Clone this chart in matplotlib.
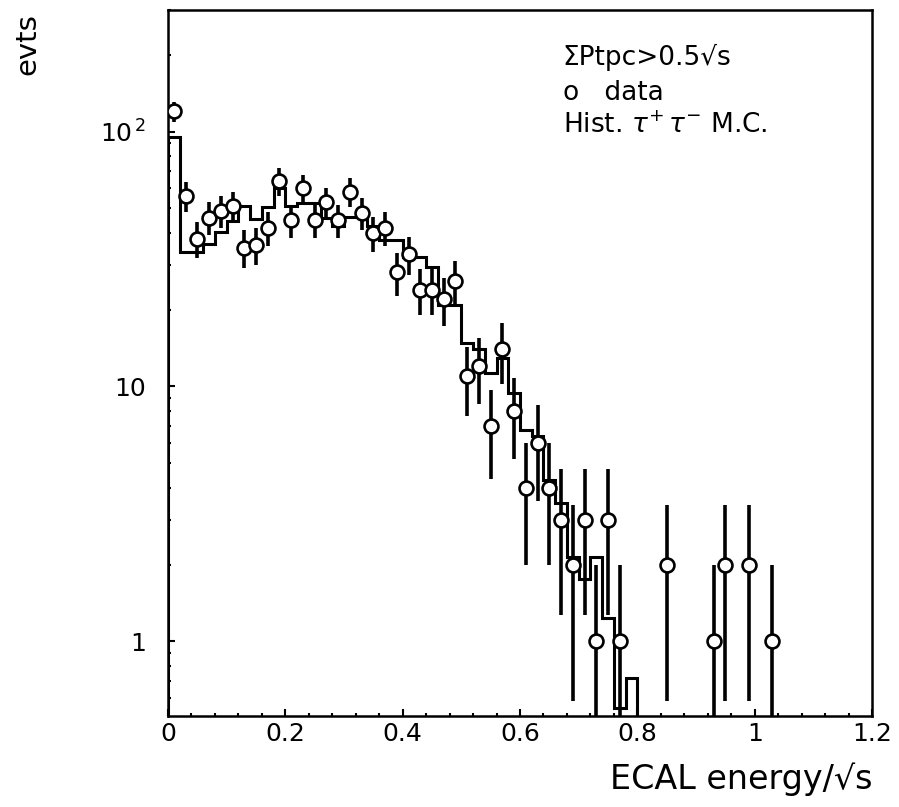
"""ECAL energy distribution: data points vs tau-pair MC histogram."""
import numpy as np
import matplotlib
matplotlib.use('Agg')
import matplotlib.pyplot as plt
from matplotlib.ticker import FixedLocator, LogLocator, MultipleLocator, NullFormatter

# data points (bin centres and counts)
data_x = [0.01, 0.03, 0.05, 0.07, 0.09, 0.11, 0.13, 0.15, 0.17, 0.19,
          0.21, 0.23, 0.25, 0.27, 0.29, 0.31, 0.33, 0.35, 0.37, 0.39,
          0.41, 0.43, 0.45, 0.47, 0.49, 0.51, 0.53, 0.55, 0.57, 0.59,
          0.61, 0.63, 0.65, 0.67, 0.69, 0.71, 0.73, 0.75, 0.77,
          0.85, 0.93, 0.95, 0.99, 1.03]
data_n = [120, 56, 38, 46, 49, 51, 35, 36, 42, 64,
          45, 60, 45, 53, 45, 58, 48, 40, 42, 28,
          33, 24, 24, 22, 26, 11, 12, 7, 14, 8,
          4, 6, 4, 3, 2, 3, 1, 3, 1,
          2, 1, 2, 2, 1]

# tau+ tau- Monte Carlo histogram
mc_edges = [0.00, 0.02, 0.04, 0.06, 0.08, 0.10, 0.12, 0.14, 0.16, 0.18,
            0.20, 0.22, 0.24, 0.26, 0.28, 0.30, 0.32, 0.34, 0.36, 0.38,
            0.40, 0.42, 0.44, 0.46, 0.48, 0.50, 0.52, 0.54, 0.56, 0.58,
            0.60, 0.62, 0.64, 0.66, 0.68, 0.70, 0.72, 0.74, 0.76, 0.78, 0.80]
mc_vals = [95, 33.6, 33.6, 36.3, 40.2, 44.6, 50.9, 45.3, 50.4, 59.8,
           51, 52.3, 52.3, 45.6, 42.5, 46.1, 46.1, 42.5, 37.6, 37.6,
           32.2, 32.2, 29.5, 20.9, 20.9, 14.8, 14.0, 11.3, 12.9, 9.4,
           6.75, 6.4, 4.3, 3.5, 2.14, 1.76, 2.14, 1.24, 0.55, 0.72]

x_ticks = [0, 0.2, 0.4, 0.6, 0.8, 1.0, 1.2]
x_labels = ['0', '0.2', '0.4', '0.6', '0.8', '1', '1.2']
y_ticks = [1, 10, 100]
y_labels = ['1', '10', r'$\mathregular{10^{\,2}}$']

plt.rcParams['font.family'] = ['DejaVu Sans']

fig = plt.figure(figsize=(8.99, 8.07), dpi=100)
ax = fig.add_axes([0.1869, 0.1128, 0.7831, 0.8749])

ax.stairs(mc_vals, mc_edges, baseline=0.3, color='black', lw=2.2, zorder=2)

n = np.array(data_n, dtype=float)
ax.errorbar(data_x, n, yerr=np.sqrt(n), fmt='o', ms=10, mfc='white',
            mec='black', mew=1.9, ecolor='black', elinewidth=2.6,
            capsize=0, zorder=3)

ax.set_yscale('log')
ax.set_xlim(0, 1.2)
ax.set_ylim(0.51, 300)

ax.xaxis.set_major_locator(FixedLocator(x_ticks))
ax.set_xticklabels(x_labels)
ax.xaxis.set_minor_locator(MultipleLocator(0.04))
ax.yaxis.set_major_locator(FixedLocator(y_ticks))
ax.set_yticklabels(y_labels)
ax.yaxis.set_minor_locator(LogLocator(base=10, subs=np.arange(2, 10)))
ax.yaxis.set_minor_formatter(NullFormatter())

ax.tick_params(which='both', direction='in', top=False, right=False,
               width=1.5, colors='black')
ax.tick_params(which='major', length=5)
ax.tick_params(which='minor', length=2.5)
ax.tick_params(axis='x', which='major', labelsize=18, pad=4)
ax.tick_params(axis='y', which='major', labelsize=18, pad=16)
for sp in ax.spines.values():
    sp.set_linewidth(1.8)

fig.text(0.970, 0.034, 'ECAL energy/\u221as', fontsize=24,
         ha='right', va='center')
fig.text(0.030, 0.984, 'evts', fontsize=21, rotation=90,
         ha='center', va='top')

# annotation block, top right
fig.text(0.626, 0.9195, '\u03a3Ptpc>0.5\u221as', fontsize=19, va='baseline')
fig.text(0.626, 0.8761, 'o   data', fontsize=19, va='baseline')
fig.text(0.626, 0.8352, r'Hist. $\tau^{+}\,\tau^{-}$ M.C.', fontsize=19,
         va='baseline')

fig.savefig('out.png', dpi=100)
